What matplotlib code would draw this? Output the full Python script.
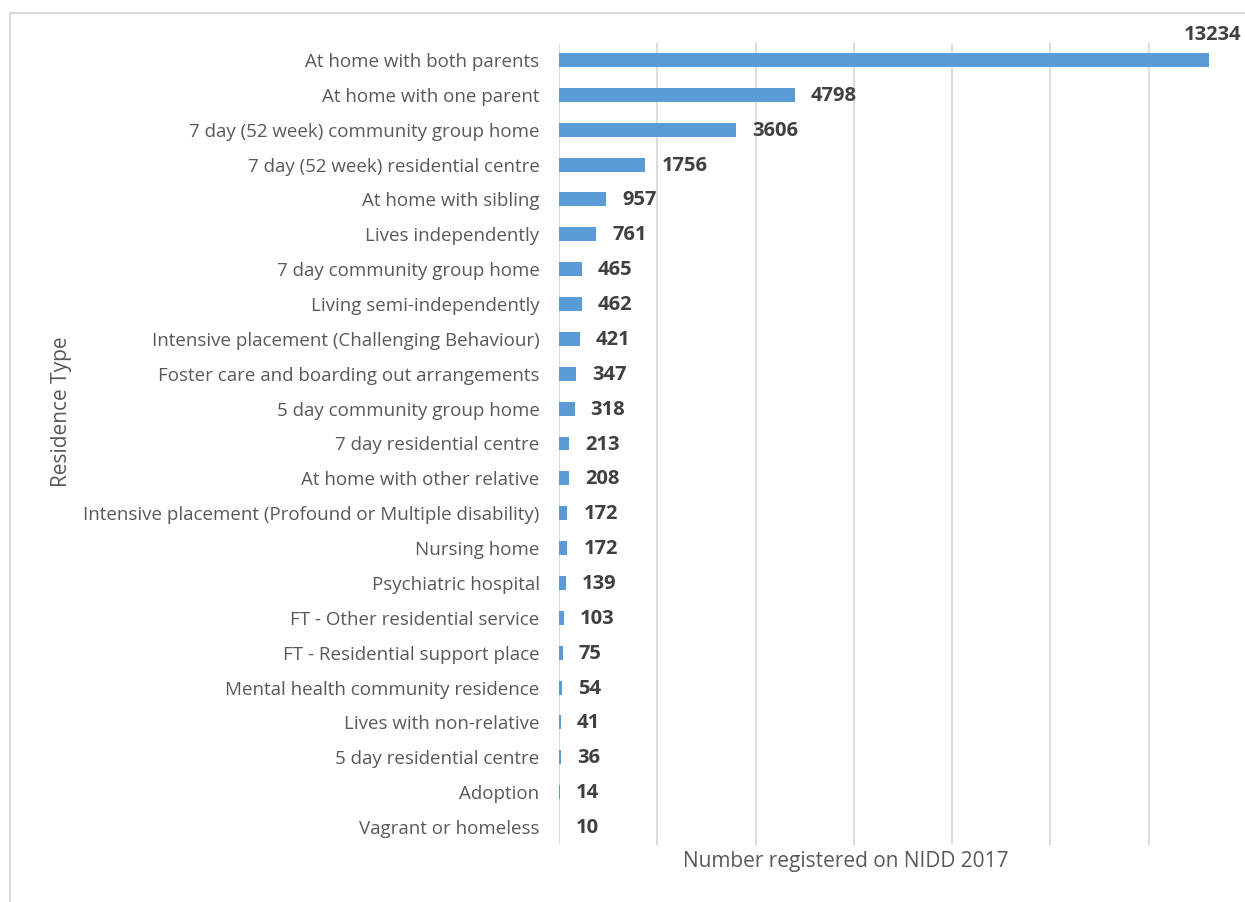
import matplotlib.pyplot as plt
from matplotlib.patches import Rectangle

plt.rcParams['font.family'] = ['Open Sans', 'DejaVu Sans']

residence = [
    'At home with both parents',
    'At home with one parent',
    '7 day (52 week) community group home',
    '7 day (52 week) residential centre',
    'At home with sibling',
    'Lives independently',
    '7 day community group home',
    'Living semi-independently',
    'Intensive placement (Challenging Behaviour)',
    'Foster care and boarding out arrangements',
    '5 day community group home',
    '7 day residential centre',
    'At home with other relative',
    'Intensive placement (Profound or Multiple disability)',
    'Nursing home',
    'Psychiatric hospital',
    'FT - Other residential service',
    'FT - Residential support place',
    'Mental health community residence',
    'Lives with non-relative',
    '5 day residential centre',
    'Adoption',
    'Vagrant or homeless',
]
registered = [13234, 4798, 3606, 1756, 957, 761, 465, 462, 421, 347, 318,
              213, 208, 172, 172, 139, 103, 75, 54, 41, 36, 14, 10]

W, H = 1245, 902
fig = plt.figure(figsize=(W / 100, H / 100), dpi=100)

# chart frame (runs off the right and bottom edges)
fig.patches.append(Rectangle((10 / W, -0.1), 1.2, 1 - 13 / H + 0.1,
                             transform=fig.transFigure, fill=False,
                             edgecolor='#d9d9d9', linewidth=1.5))

left, right, top, bottom = 559, 1247, 42.5, 844.5
ax = fig.add_axes([left / W, 1 - bottom / H, (right - left) / W, (bottom - top) / H])

y = list(range(len(residence)))
ax.barh(y, registered, height=0.4, color='#5B9BD5', zorder=3)
ax.set_ylim(len(residence) - 0.5, -0.5)
ax.set_xlim(0, 14000)
ax.set_xticks(range(0, 14000, 2000))
ax.xaxis.grid(True, color='#d9d9d9', linewidth=1.3, zorder=0)
ax.tick_params(axis='x', length=0, labelbottom=False)
ax.tick_params(axis='y', length=0, pad=14, labelsize=13.5, labelcolor='#595959')
ax.set_yticks(y)
ax.set_yticklabels(residence)
for s in ax.spines.values():
    s.set_visible(False)

for i, v in enumerate(registered):
    if i == 0:
        # the longest bar has its label lifted above the bar end
        ax.annotate(str(v), (v, i), xytext=(32, 25), textcoords='offset pixels',
                    ha='right', va='center', fontsize=14.5, fontweight='bold',
                    color='#404040')
    else:
        ax.annotate(str(v), (v, i), xytext=(16, -1), textcoords='offset pixels',
                    ha='left', va='center', fontsize=14.5, fontweight='bold',
                    color='#404040')

fig.text(62 / W, 1 - 412 / H, 'Residence Type', rotation=90, ha='center',
         va='center', fontsize=15, color='#595959')
fig.text(846 / W, 1 - 862 / H, 'Number registered on NIDD 2017', ha='center',
         va='center', fontsize=15, color='#595959')

fig.savefig('out.png', dpi=100)
